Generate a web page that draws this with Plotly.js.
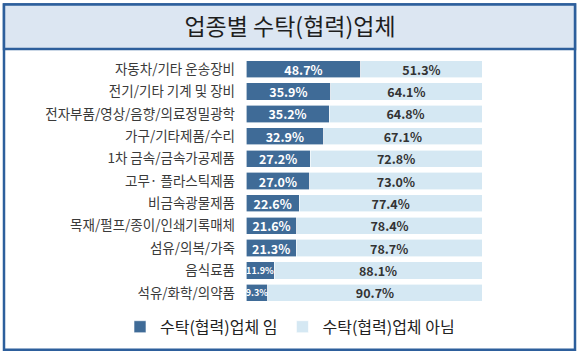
<!DOCTYPE html>
<html>
<head>
<meta charset="utf-8">
<script src="https://cdn.plot.ly/plotly-3.0.1.min.js"></script>
<style>
html,body{margin:0;padding:0;background:#fff;}
#chart{width:580px;height:356px;}
</style>
</head>
<body>
<div id="chart"></div>
<script>
// Data
const categories = [
  "자동차/기타 운송장비",
  "전기/기타 기계 및 장비",
  "전자부품/영상/음향/의료정밀광학",
  "가구/기타제품/수리",
  "1차 금속/금속가공제품",
  "고무· 플라스틱제품",
  "비금속광물제품",
  "목재/펄프/종이/인쇄기록매체",
  "섬유/의복/가죽",
  "음식료품",
  "석유/화학/의약품"
];
const partnerYes = [48.7, 35.9, 35.2, 32.9, 27.2, 27.0, 22.6, 21.6, 21.3, 11.9, 9.3];
const partnerNo  = [51.3, 64.1, 64.8, 67.1, 72.8, 73.0, 77.4, 78.4, 78.7, 88.1, 90.7];
const seriesNames = ["수탁(협력)업체 임", "수탁(협력)업체 아님"];
const chartTitle = "업종별 수탁(협력)업체";

const W = 580, H = 356;
const M = {l: 246, r: 98, t: 58, b: 50};
const PW = W - M.l - M.r, PH = H - M.t - M.b;
const px = v => (v - M.l) / PW;
const py = v => (H - M.b - v) / PH;

const FONT = '"Noto Sans CJK KR", "Noto Sans", sans-serif';
const darkColor = '#3f6b97';
const lightColor = '#d5e8f3';
const borderColor = '#2d5f9c';

const yesSizes = partnerYes.map(v => v < 15 ? 9 : 12.5);

const traces = [
  {
    type: 'bar', orientation: 'h', name: seriesNames[0],
    y: categories, x: partnerYes,
    marker: {color: darkColor, line: {color: '#ffffff', width: 0.6}},
    texttemplate: '%{x:.1f}%', textposition: 'inside', insidetextanchor: 'middle',
    textangle: 0, constraintext: 'none',
    insidetextfont: {family: FONT, size: yesSizes, color: '#ffffff', weight: 'bold'},
    hoverinfo: 'skip'
  },
  {
    type: 'bar', orientation: 'h', name: seriesNames[1],
    y: categories, x: partnerNo,
    marker: {color: lightColor, line: {color: '#ffffff', width: 0.6}},
    texttemplate: '%{x:.1f}%', textposition: 'inside', insidetextanchor: 'middle',
    textangle: 0, constraintext: 'none',
    insidetextfont: {family: FONT, size: 12.5, color: '#333333', weight: 'bold'},
    hoverinfo: 'skip'
  }
];

const layout = {
  width: W, height: H,
  margin: M,
  paper_bgcolor: '#ffffff', plot_bgcolor: 'rgba(0,0,0,0)',
  barmode: 'stack', bargap: 0.23,
  font: {family: FONT, color: '#333333'},
  title: {
    text: chartTitle, x: 0.5, xanchor: 'center', xref: 'container',
    y: 1 - 27 / H, yanchor: 'middle', yref: 'container',
    font: {family: FONT, size: 23, color: '#1e1e1e'}
  },
  xaxis: {range: [0, 100], visible: false, fixedrange: true},
  yaxis: {
    type: 'category', autorange: 'reversed', showgrid: false, zeroline: false,
    showline: false, ticks: '', ticklabelstandoff: 10,
    tickfont: {family: FONT, size: 13.5, color: '#3a3a3a'}
  },
  showlegend: true,
  legend: {
    orientation: 'h', x: px(120), xanchor: 'left', y: py(329), yanchor: 'middle',
    font: {family: FONT, size: 16, color: '#222222'},
    traceorder: 'normal', itemclick: false, bgcolor: 'rgba(0,0,0,0)'
  },
  shapes: [
    {type: 'rect', xref: 'paper', yref: 'paper', layer: 'below',
     x0: px(4), x1: px(575), y0: py(352), y1: py(4),
     line: {color: borderColor, width: 2.5}, fillcolor: 'rgba(0,0,0,0)'},
    {type: 'rect', xref: 'paper', yref: 'paper', layer: 'below',
     x0: px(4), x1: px(575), y0: py(49), y1: py(4),
     line: {color: borderColor, width: 2.5}, fillcolor: '#dce6f2'}
  ]
};

Plotly.newPlot('chart', traces, layout, {displayModeBar: false, staticPlot: true});
</script>
</body>
</html>
